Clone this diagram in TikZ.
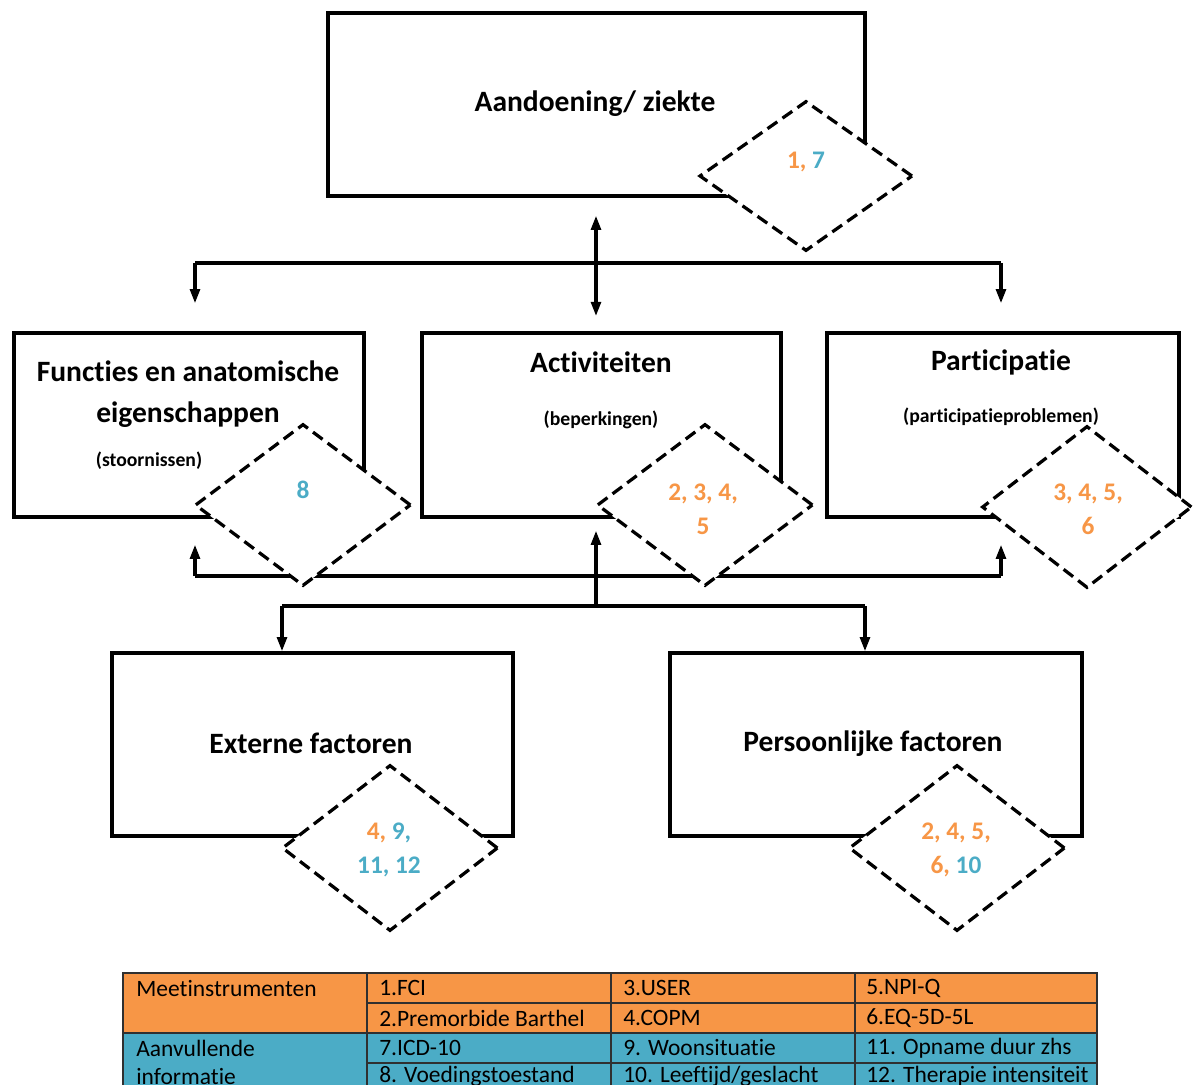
\documentclass[tikz,border=0pt]{standalone}
\usepackage{fontspec}
\setmainfont{Carlito}[Ligatures=NoCommon]
\usetikzlibrary{positioning, arrows.meta, shapes.geometric, fit}
\definecolor{oranje}{HTML}{F79646}
\definecolor{blauw}{HTML}{4BACC6}
\definecolor{rand}{HTML}{303030}

\begin{document}
\begin{tikzpicture}[x=0.025cm, y=-0.025cm,
    blok/.style={draw, line width=2.6pt, fill=white, inner sep=0pt},
    ruit/.style={diamond, draw, fill=white, line width=2.3pt, dash pattern=on 8.5pt off 4.5pt,
      inner sep=0pt, minimum width=5.4cm, minimum height=4.05cm},
    lijn/.style={line width=2.4pt},
    pijl/.style={line width=2.2pt, -{Triangle[length=10pt,width=7pt]}},
    pijl2/.style={line width=2.2pt, {Triangle[length=10pt,width=7pt]}-{Triangle[length=10pt,width=7pt]}},
    titel/.style={font=\fontsize{21}{29}\selectfont\bfseries, align=center},
    sub/.style={font=\fontsize{14}{17}\selectfont\bfseries},
    getal/.style={font=\fontsize{18}{24}\selectfont\bfseries, align=center},
    cel/.style={anchor=west, font=\fontsize{16.7}{20}\selectfont, inner sep=0pt}]
  \useasboundingbox (0,0) rectangle (1193,1085);
  \clip (0,0) rectangle (1193,1085);

  % blokken
  \node[blok, fit={(328,13) (865,196)}] (ziekte) {};
  \node[blok, fit={(14,333) (364,517)}] (functies) {};
  \node[blok, fit={(422,333) (781,517)}] (activiteiten) {};
  \node[blok, fit={(827,333) (1179,517)}] (participatie) {};
  \node[blok, fit={(112,653) (513,836)}] (extern) {};
  \node[blok, fit={(670,653) (1082,836)}] (persoonlijk) {};

  \node[titel] (t-ziekte) at (595,104) {Aandoening/ ziekte};
  \node[titel] (t-functies) at (188,394) {Functies en anatomische\\eigenschappen};
  \node[sub] (s-functies) at (149,461) {(stoornissen)};
  \node[titel] (t-act) at (601,362) {Activiteiten};
  \node[sub] (s-act) at (601,420) {(beperkingen)};
  \node[titel] (t-par) at (1001,362) {Participatie};
  \node[sub] (s-par) at (1001,417) {(participatieproblemen)};
  \node[titel] (t-ext) at (311,743) {Externe factoren};
  \node[titel] (t-pers) at (873,744) {Persoonlijke factoren};

  % pijlen boven
  \coordinate (boven) at (596,263);
  \coordinate (bovenL) at (195,263);
  \coordinate (bovenR) at (1001,263);
  \draw[lijn] (bovenL) -- (bovenR);
  \draw[pijl, shorten >=0.7cm] (bovenL) -- (bovenL |- functies.north);
  \draw[pijl, shorten >=0.7cm] (bovenR) -- (bovenR |- participatie.north);
  \draw[pijl2, shorten <=0.45cm, shorten >=0.38cm] (boven |- ziekte.south) -- (boven |- activiteiten.north);

  % pijlen onder
  \coordinate (onderL) at (195,576);
  \coordinate (onderR) at (1001,576);
  \draw[lijn] (onderL) -- (onderR);
  \draw[pijl, shorten >=0.65cm] (onderL) -- (onderL |- functies.south);
  \draw[pijl, shorten >=0.65cm] (onderR) -- (onderR |- participatie.south);
  \coordinate (midden) at (596,606);
  \coordinate (middenL) at (282,606);
  \coordinate (middenR) at (865,606);
  \draw[pijl, shorten >=0.3cm] (midden) -- (midden |- activiteiten.south);
  \draw[lijn] (middenL) -- (middenR);
  \draw[pijl] (middenL) -- (middenL |- extern.north);
  \draw[pijl] (middenR) -- (middenR |- persoonlijk.north);

  % ruiten
  \node[ruit, minimum width=5.33cm, minimum height=3.75cm] (r-ziekte) at (806,176) {};
  \node[ruit] (r-functies) at (303,505) {};
  \node[ruit] (r-act) at (705,505) {};
  \node[ruit, minimum width=5.25cm] (r-par) at (1087,507) {};
  \node[ruit, minimum height=4.15cm] (r-ext) at (390,848) {};
  \node[ruit, minimum height=4.15cm] (r-pers) at (957,848) {};

  \node[getal] (g-ziekte) at (806,162) {\textcolor{oranje}{1,} \textcolor{blauw}{7}};
  \node[getal] (g-functies) at (303,490) {\textcolor{blauw}{8}};
  \node[getal, text=oranje] (g-act) at (703,509) {2, 3, 4,\\5};
  \node[getal, text=oranje] (g-par) at (1088,509) {3, 4, 5,\\6};
  \node[getal] (g-ext) at (389,850) {\textcolor{oranje}{4,} \textcolor{blauw}{9,}\\\textcolor{blauw}{11, 12}};
  \node[getal] (g-pers) at (956,850) {\textcolor{oranje}{2, 4, 5,}\\\textcolor{oranje}{6,} \textcolor{blauw}{10}};

  % tabel
  \fill[oranje] (123,973) rectangle (1097,1033);
  \fill[blauw] (123,1033) rectangle (1097,1093);
  \draw[rand, line width=1pt] (123,973) rectangle (1097,1093);
  \draw[rand, line width=1pt] (123,1033) -- (1097,1033);
  \draw[rand, line width=1pt] (367,1003) -- (1097,1003);
  \draw[rand, line width=1pt] (367,1063) -- (1097,1063);
  \foreach \x in {367,611,855}
    \draw[rand, line width=1pt] (\x,973) -- (\x,1093);

  \node[cel] (c-meet) at (136,988) {Meetinstrumenten};
  \node[cel] (c-1) at (379,988) {1.FCI};
  \node[cel] (c-3) at (623,988) {3.USER};
  \node[cel] (c-5) at (866,988) {5.NPI-Q};
  \node[cel] (c-2) at (379,1018) {2.Premorbide Barthel};
  \node[cel] (c-4) at (623,1018) {4.COPM};
  \node[cel] (c-6) at (866,1018) {6.EQ-5D-5L};
  \node[cel] (c-aanv) at (136,1048) {Aanvullende};
  \node[cel] (c-info) at (136,1076) {informatie};
  \node[cel] (c-7) at (379,1048) {7.ICD-10};
  \node[cel] (c-9) at (623,1048) {9. Woonsituatie};
  \node[cel] (c-11) at (866,1048) {11. Opname duur zhs};
  \node[cel] (c-8) at (379,1076) {8. Voedingstoestand};
  \node[cel] (c-10) at (623,1076) {10. Leeftijd/geslacht};
  \node[cel] (c-12) at (866,1076) {12. Therapie intensiteit};
\end{tikzpicture}
\end{document}
